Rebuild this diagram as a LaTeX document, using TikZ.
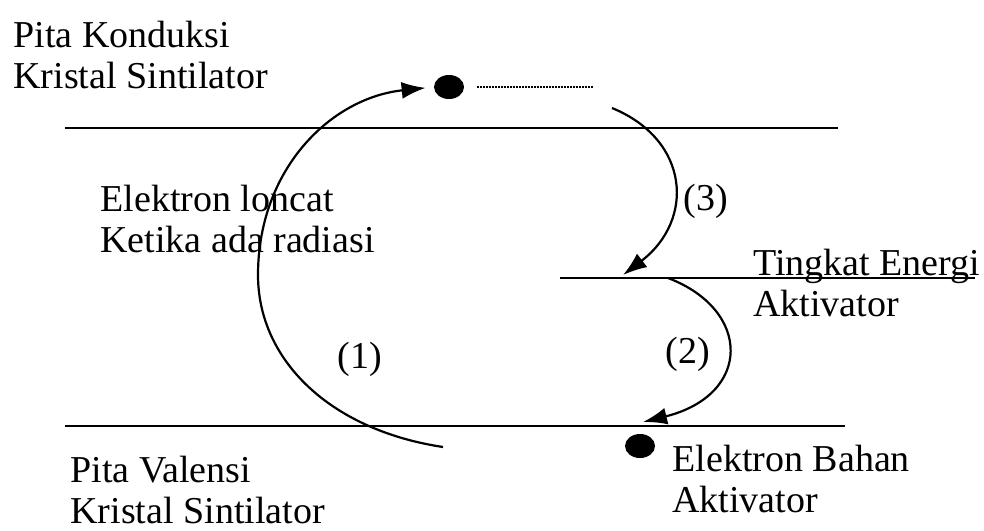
\documentclass[tikz,border=0pt]{standalone}
\usepackage{fontspec}
\setmainfont{Liberation Serif}
\usetikzlibrary{arrows.meta,shapes.geometric}

\begin{document}
\begin{tikzpicture}[
    x=0.5pt, y=-0.5pt,
    txt/.style={anchor=base west, align=left, inner sep=0pt, font=\fontsize{19}{20.5}\selectfont},
    band/.style={line width=1.4pt},
    jump/.style={line width=1.1pt, -{Latex[length=12pt,width=8.5pt]}},
    electron/.style={ellipse, fill=black, minimum width=15pt, minimum height=12pt, inner sep=0pt},
    trail/.style={line width=1pt, dash pattern=on 1pt off 0.5pt}
]
\useasboundingbox (0,0) rectangle (984,530);

% Energy bands
\coordinate (cb-l) at (65,128);
\coordinate (cb-r) at (838,128);
\coordinate (act-l) at (560,278);
\coordinate (act-r) at (975,278);
\coordinate (vb-l) at (65,426);
\coordinate (vb-r) at (845,426);
\draw[band] (cb-l) -- (cb-r);
\draw[band] (act-l) -- (act-r);
\draw[band] (vb-l) -- (vb-r);

% Electrons
\node[electron] (e-top) at (449,87) {};
\node[electron] (e-act) at (640,446) {};
\coordinate (trail-end) at (593,87);
\draw[trail, shorten <=6.5pt] (e-top.east) -- (trail-end);

% Transitions
\coordinate (j1-s) at (443,447);
\coordinate (j1-m) at (258,275);
\coordinate (j3-s) at (612,108);
\coordinate (j3-e) at (623,275);
\coordinate (j2-s) at (668,278);
\coordinate (j2-e) at (643,422);
\draw[jump, shorten >=4pt] (j1-s) .. controls (330,430) and (258,360) .. (j1-m)
    .. controls (258,170) and (330,98) .. (e-top.west);
\draw[jump] (j3-s) .. controls (690,140) and (695,220) .. (j3-e);
\draw[jump] (j2-s) .. controls (752,310) and (752,395) .. (j2-e);

% Labels (anchored at the baseline of the last line)
\node[txt] (cb-txt) at (13,88) {Pita Konduksi\\Kristal Sintilator};
\node[txt] (jump-txt) at (100,252) {Elektron loncat\\Ketika ada radiasi};
\node[txt] (act-txt) at (753,316) {Tingkat Energi\\Aktivator};
\node[txt] (vb-txt) at (70,523) {Pita Valensi\\Kristal Sintilator};
\node[txt] (ea-txt) at (672,512) {Elektron Bahan\\Aktivator};
\node[txt] (n1) at (337,368) {(1)};
\node[txt] (n2) at (665,363) {(2)};
\node[txt] (n3) at (683,210) {(3)};

\end{tikzpicture}
\end{document}
